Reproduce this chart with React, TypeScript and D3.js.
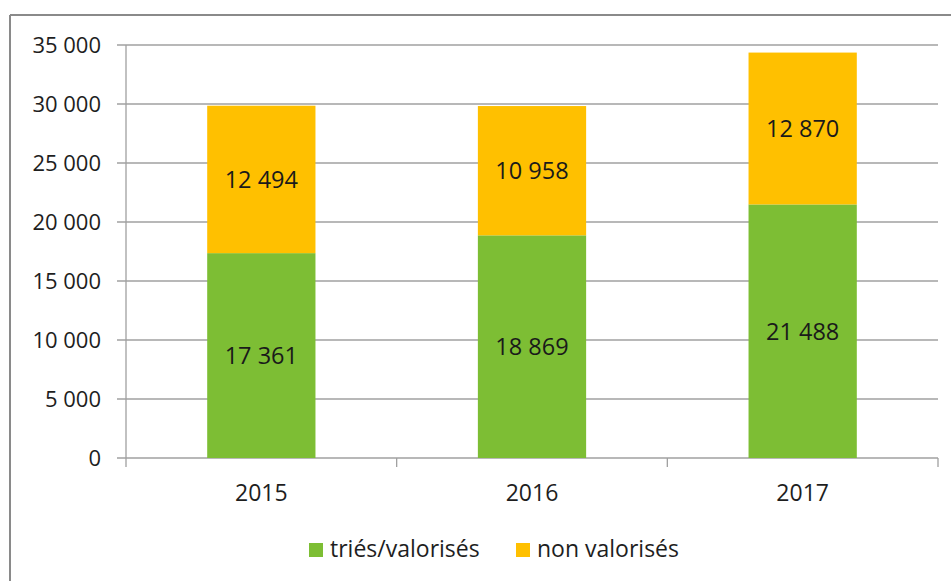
import React from "react";
import * as d3 from "d3";

const years = ["2015", "2016", "2017"];
const sortedValues = [17361, 18869, 21488];
const unvaluedValues = [12494, 10958, 12870];
const seriesNames = ["triés/valorisés", "non valorisés"];
const seriesColors = ["#7DBE34", "#FFC000"];
const yTicks = [0, 5000, 10000, 15000, 20000, 25000, 30000, 35000];

const W = 951;
const H = 581;
const margin = { left: 126, right: 13, top: 45, bottom: 123 };
const FONT = "'Open Sans', sans-serif";

const fmt = (v: number) => {
  const s = String(v);
  return s.replace(/\B(?=(\d{3})+(?!\d))/g, " ");
};

export default function App() {
  const x = d3
    .scaleBand<string>()
    .domain(years)
    .range([margin.left, W - margin.right])
    .paddingInner(0.6)
    .paddingOuter(0.3);
  const xOuter = d3.scaleBand<string>().domain(years).range([margin.left, W - margin.right]);
  const y = d3.scaleLinear().domain([0, 35000]).range([H - margin.bottom, margin.top]);

  const data = years.map((yr, i) => ({ year: yr, s0: sortedValues[i], s1: unvaluedValues[i] }));
  const stack = d3.stack<any>().keys(["s0", "s1"])(data);

  const x0 = margin.left;
  const x1 = W - margin.right;
  const y0 = y(0);

  return (
    <svg
      width={W}
      height={H}
      style={{ position: "absolute", left: 0, top: 0, background: "#fff" }}
      fontFamily={FONT}
    >
      <rect x={0} y={0} width={W} height={H} fill="#fff" />
      {/* frame */}
      <line x1={10} y1={15} x2={W} y2={15} stroke="#8a8a8a" strokeWidth={2} />
      <line x1={10} y1={15} x2={10} y2={H} stroke="#8a8a8a" strokeWidth={2} />

      {/* gridlines and y ticks */}
      {yTicks.map((t) => (
        <g key={t}>
          <line x1={x0 - 9} x2={x1} y1={y(t)} y2={y(t)} stroke="#a0a0a0" strokeWidth={1.3} />
          <text
            x={101}
            y={y(t)}
            dy="0.36em"
            textAnchor="end"
            fontSize={22}
            fill="#1e1e1e"
          >
            {fmt(t)}
          </text>
        </g>
      ))}
      {/* y axis */}
      <line x1={x0} x2={x0} y1={margin.top} y2={y0 + 9} stroke="#a0a0a0" strokeWidth={1.3} />
      {/* category ticks */}
      {years.map((yr) => (
        <line
          key={yr}
          x1={(xOuter(yr) as number) + xOuter.bandwidth()}
          x2={(xOuter(yr) as number) + xOuter.bandwidth()}
          y1={y0}
          y2={y0 + 9}
          stroke="#a0a0a0"
          strokeWidth={1.3}
        />
      ))}

      {/* bars */}
      {stack.map((layer, li) => (
        <g key={li}>
          {layer.map((d: any, i: number) => {
            const yr = years[i];
            const top = y(d[1]);
            const bot = y(d[0]);
            const val = d[1] - d[0];
            return (
              <g key={yr}>
                <rect
                  x={x(yr)}
                  y={top}
                  width={x.bandwidth()}
                  height={bot - top}
                  fill={seriesColors[li]}
                />
                <text
                  x={(x(yr) as number) + x.bandwidth() / 2}
                  y={(top + bot) / 2}
                  dy="0.36em"
                  textAnchor="middle"
                  fontSize={23.5}
                  fill="#1a1a1a"
                >
                  {fmt(val)}
                </text>
              </g>
            );
          })}
        </g>
      ))}

      {/* x labels */}
      {years.map((yr) => (
        <text
          key={yr}
          x={(xOuter(yr) as number) + xOuter.bandwidth() / 2}
          y={501}
          textAnchor="middle"
          fontSize={23}
          fill="#1e1e1e"
        >
          {yr}
        </text>
      ))}

      {/* legend */}
      <rect x={309} y={543} width={14} height={14} fill={seriesColors[0]} />
      <text x={330} y={557} fontSize={23} fill="#1e1e1e">
        {seriesNames[0]}
      </text>
      <rect x={516} y={543} width={14} height={14} fill={seriesColors[1]} />
      <text x={537} y={557} fontSize={23} fill="#1e1e1e">
        {seriesNames[1]}
      </text>
    </svg>
  );
}
